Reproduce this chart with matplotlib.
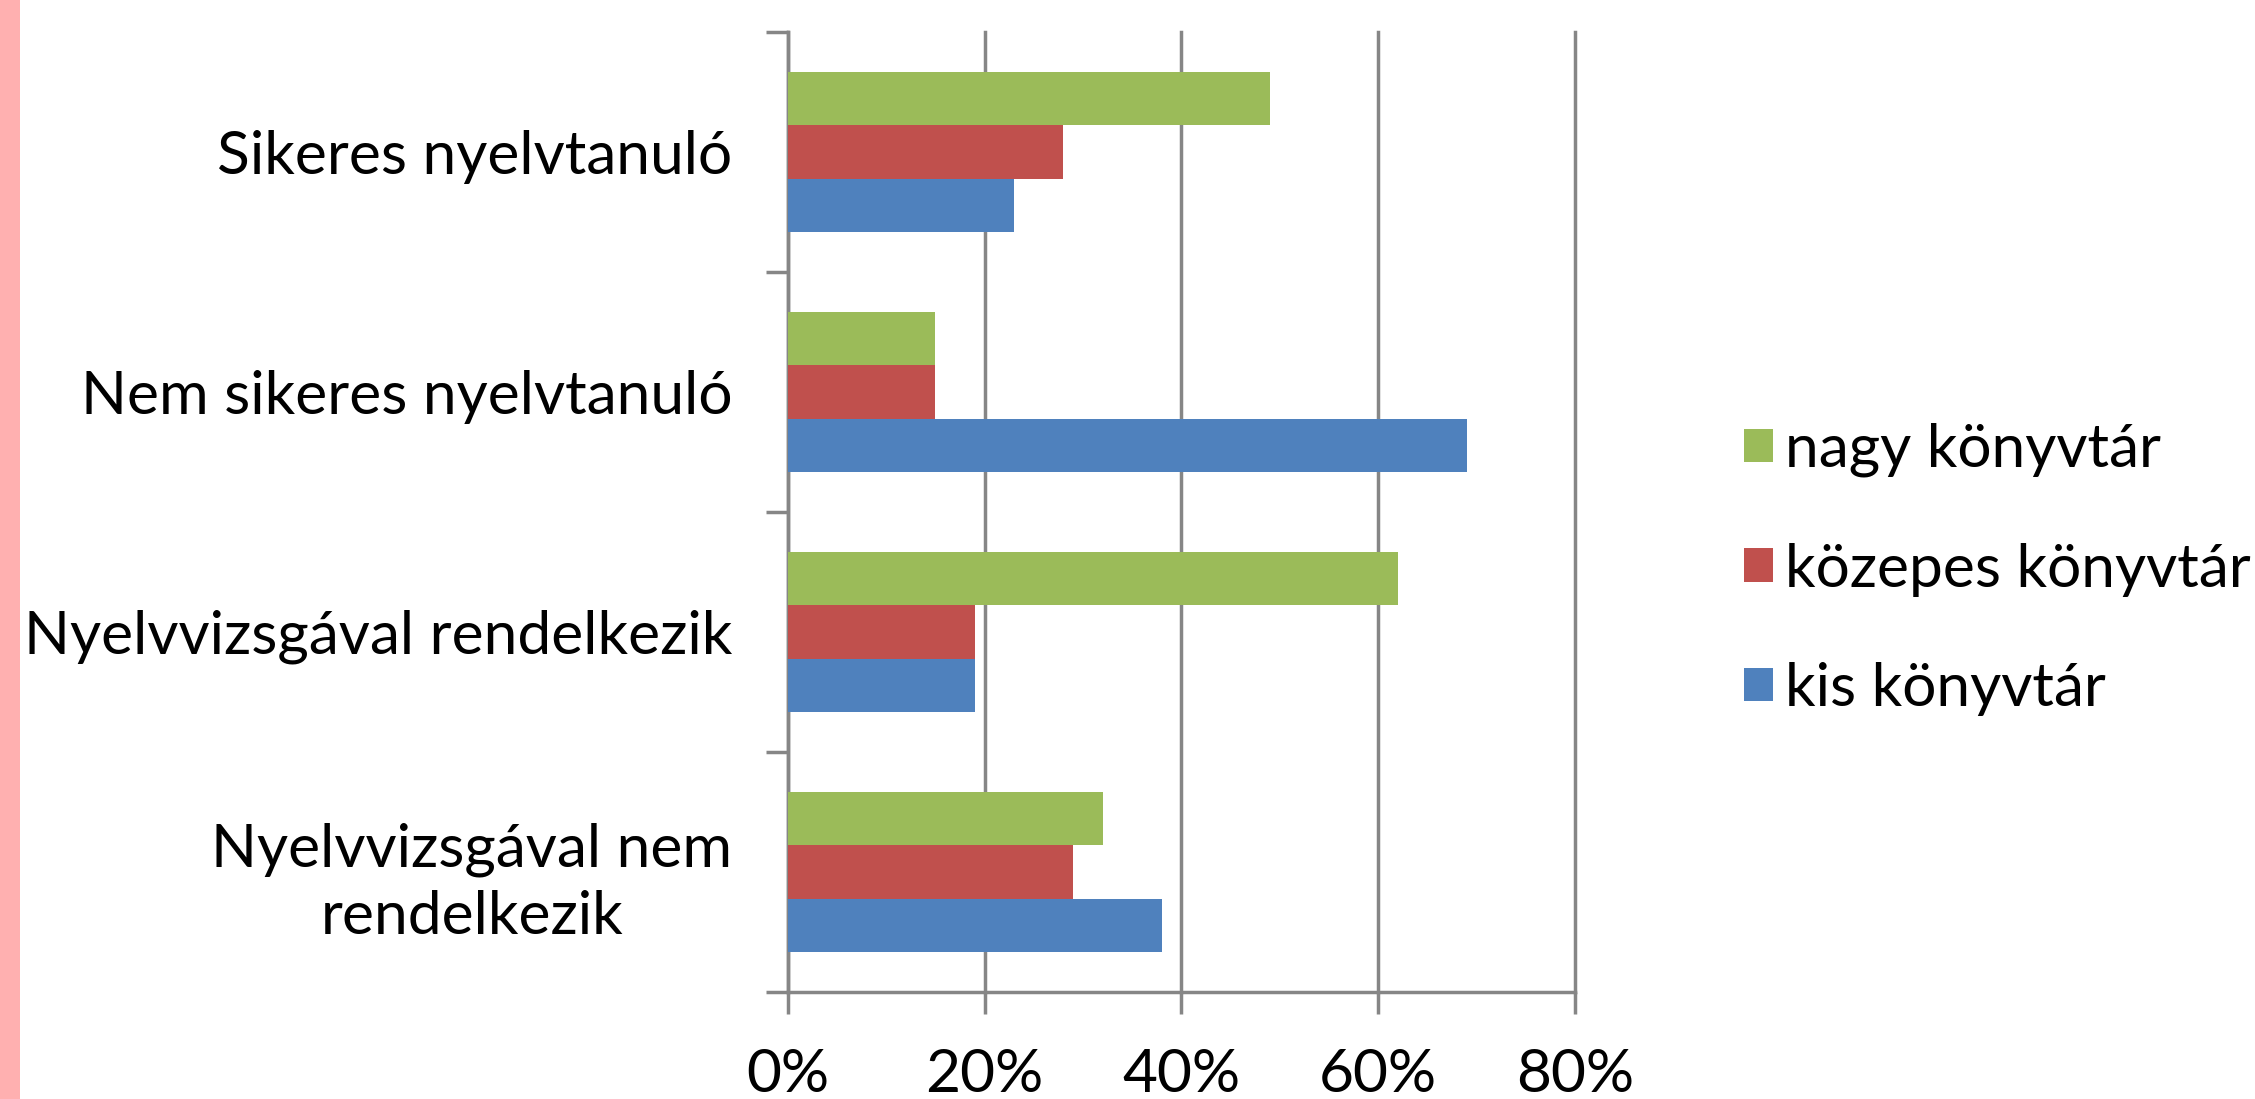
import matplotlib.pyplot as plt
from matplotlib.patches import Rectangle
import numpy as np

plt.rcParams['font.family'] = ['Lato', 'DejaVu Sans']

# data (in %)
categories = ['Nyelvvizsgával nem\nrendelkezik', 'Nyelvvizsgával rendelkezik',
              'Nem sikeres nyelvtanuló', 'Sikeres nyelvtanuló']
kis = [38, 19, 69, 23]
kozepes = [29, 19, 15, 28]
nagy = [32, 62, 15, 49]
series_names = ['kis könyvtár', 'közepes könyvtár', 'nagy könyvtár']
xticks = [0, 20, 40, 60, 80]
xticklabels = ['0%', '20%', '40%', '60%', '80%']

colors = ['#4F81BD', '#C0504D', '#9BBB59']
GRID = '#868686'
FS = 43.5

fig = plt.figure(figsize=(22.55, 10.99), dpi=100)
ax = fig.add_axes([0.3494, 0.0974, 0.349, 0.8735])

# pinkish strip on the left edge
fig.patches.append(Rectangle((0, 0), 20 / 2255, 1, transform=fig.transFigure,
                             facecolor='#FFB0B0', edgecolor='none'))

y = np.arange(len(categories))
h = 0.222
bars = []
for i, vals in enumerate([kis, kozepes, nagy]):
    b = ax.barh(y + (i - 1) * h, vals, height=h, color=colors[i],
                label=series_names[i], zorder=3)
    bars.append(b)

ax.set_xlim(0, 80)
ax.set_ylim(-0.5, len(categories) - 0.5)

ax.set_xticks(xticks)
ax.set_xticklabels(xticklabels, fontsize=FS)
ax.grid(axis='x', color=GRID, linewidth=2.5, zorder=0)
ax.set_axisbelow(True)
for gl in ax.get_xgridlines():
    gl.set_clip_on(False)

# category boundaries get the tick marks, labels sit in between
ax.set_yticks(np.arange(len(categories) + 1) - 0.5)
ax.set_yticklabels([])
ax.set_yticks(y, minor=True)
ax.set_yticklabels(categories, minor=True, fontsize=FS)
for lab in ax.get_yticklabels(minor=True):
    lab.set_multialignment('center')
    lab.set_linespacing(1.3)

ax.tick_params(axis='y', which='major', length=16, width=2.5, color=GRID, direction='out')
ax.tick_params(axis='y', which='minor', length=0, pad=40)
ax.tick_params(axis='x', length=16, width=2.5, color=GRID, pad=24)

for s in ['top', 'right']:
    ax.spines[s].set_visible(False)
for s in ['left', 'bottom']:
    ax.spines[s].set_color(GRID)
    ax.spines[s].set_linewidth(2.5)

handles = bars[::-1]
fig.legend(handles, series_names[::-1], loc='center left',
           bbox_to_anchor=(0.7735, 0.482), frameon=False, fontsize=FS,
           handlelength=0.47, handleheight=0.47, handletextpad=0.2,
           labelspacing=1.08, borderpad=0, borderaxespad=0)

fig.savefig('out.png', dpi=100)
